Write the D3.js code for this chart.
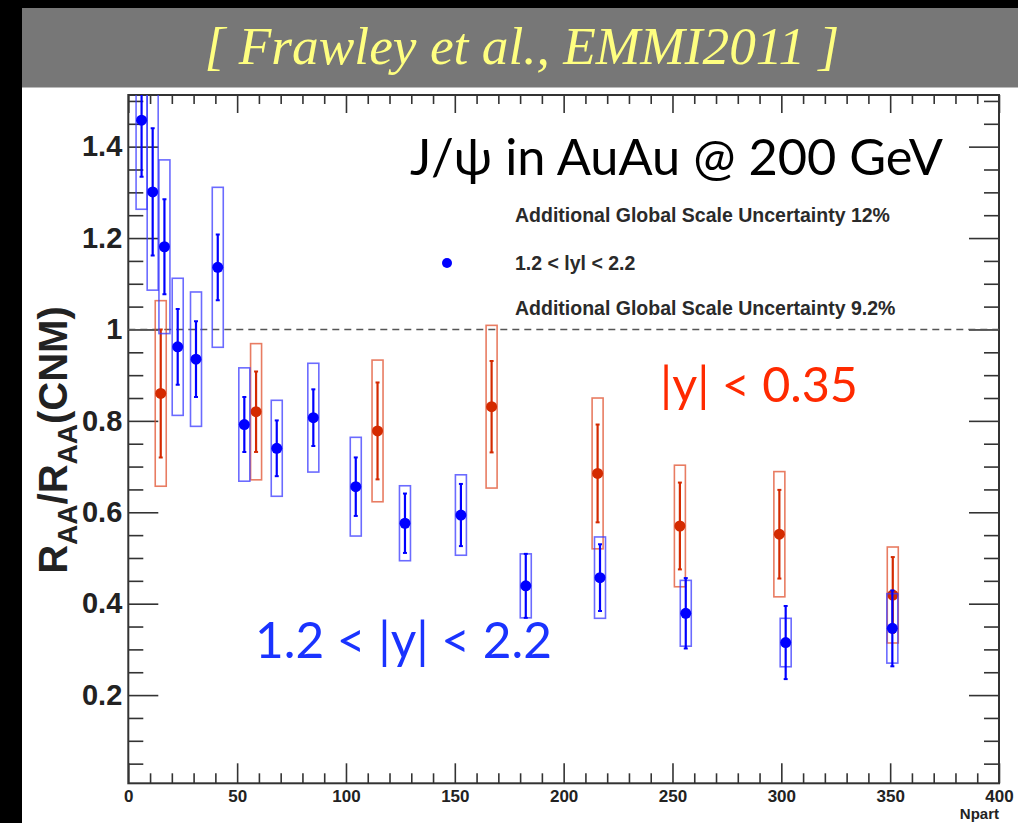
<!DOCTYPE html>
<html><head><meta charset="utf-8">
<script src="https://cdn.jsdelivr.net/npm/d3@7"></script>
<style>body{margin:0;background:#000;overflow:hidden} svg{display:block}</style>
</head><body>
<svg id="c" width="1018" height="823"></svg>
<script>
// ---- data ----
const blueNpart = [6.1, 11.2, 16.6, 22.7, 31.1, 41.1, 53.3, 68.2, 85.0, 104.5, 127.1, 152.8, 182.6, 216.7, 256.1, 302.0, 351.0];
const blueValue = [1.458, 1.301, 1.181, 0.962, 0.935, 1.136, 0.792, 0.740, 0.807, 0.656, 0.576, 0.594, 0.439, 0.457, 0.379, 0.315, 0.346];
const blueStat  = [0.124, 0.139, 0.104, 0.083, 0.083, 0.072, 0.060, 0.061, 0.062, 0.064, 0.065, 0.068, 0.070, 0.073, 0.077, 0.080, 0.083];
const blueSys   = [0.195, 0.215, 0.190, 0.150, 0.147, 0.175, 0.124, 0.105, 0.119, 0.108, 0.082, 0.088, 0.070, 0.089, 0.072, 0.053, 0.076];
const redNpart = [14.9, 58.7, 114.5, 166.9, 215.6, 253.4, 299.1, 351.2];
const redValue = [0.860, 0.820, 0.778, 0.831, 0.685, 0.570, 0.552, 0.419];
const redStat  = [0.140, 0.088, 0.106, 0.100, 0.107, 0.095, 0.097, 0.083];
const redSys   = [0.203, 0.149, 0.155, 0.178, 0.165, 0.133, 0.137, 0.105];
const xMajorTicks = [0, 50, 100, 150, 200, 250, 300, 350, 400];
const xTickLabels = ["0", "50", "100", "150", "200", "250", "300", "350", "400"];
const yMajorTicks = [0.2, 0.4, 0.6, 0.8, 1.0, 1.2, 1.4];
const yTickLabels = ["0.2", "0.4", "0.6", "0.8", "1", "1.2", "1.4"];
const xDomain = [0, 400];
const yDomain = [0.007, 1.513];
const refLine = 1.0;
const legendLines = ["Additional Global Scale Uncertainty 12%", "1.2 < lyl < 2.2", "Additional Global Scale Uncertainty 9.2%"];

// ---- layout ----
const svg = d3.select("#c");
const L = 128.3, R = 999, T = 95, B = 783.3;
const x = d3.scaleLinear().domain(xDomain).range([L, R]);
const y = d3.scaleLinear().domain(yDomain).range([B, T]);
const xMinor = d3.range(0, 401, 10).filter(v => v % 50 !== 0);
const yMinor = d3.range(1, 31).map(i => +(i * 0.05).toFixed(2)).filter(v => Math.round(v * 100) % 20 !== 0);

function fit(sel, w) {
  const len = sel.node().getComputedTextLength();
  const fs = parseFloat(sel.attr("font-size"));
  const nf = fs * w / len;
  sel.attr("font-size", nf);
  return nf / fs;
}

// backgrounds
svg.append("rect").attr("x", 22).attr("y", 8).attr("width", 996).attr("height", 80).attr("fill", "#777777");
svg.append("rect").attr("x", 22).attr("y", 87.5).attr("width", 996).attr("height", 736).attr("fill", "#ffffff");

// banner
const ban = svg.append("text").attr("x", 522).attr("y", 64).attr("text-anchor", "middle")
  .attr("font-family", "'Liberation Serif', 'DejaVu Serif', serif").attr("font-style", "italic")
  .attr("font-size", 40).attr("fill", "#ffff80").text("[ Frawley et al., EMMI2011 ]");
fit(ban, 635);

// clip
svg.append("clipPath").attr("id", "pc").append("rect").attr("x", L).attr("y", T).attr("width", R - L).attr("height", B - T);

// axes ticks
function styleAxis(g) { g.select(".domain").remove(); g.selectAll("line").attr("stroke", "#333").attr("stroke-width", 1.6); }
svg.append("g").attr("transform", `translate(0,${B})`).call(d3.axisTop(x).tickValues(xMajorTicks).tickSize(20).tickFormat("")).call(styleAxis);
svg.append("g").attr("transform", `translate(0,${B})`).call(d3.axisTop(x).tickValues(xMinor).tickSize(10).tickFormat("")).call(styleAxis);
svg.append("g").attr("transform", `translate(0,${T})`).call(d3.axisBottom(x).tickValues(xMajorTicks).tickSize(18).tickFormat("")).call(styleAxis);
svg.append("g").attr("transform", `translate(0,${T})`).call(d3.axisBottom(x).tickValues(xMinor).tickSize(9).tickFormat("")).call(styleAxis);
svg.append("g").attr("transform", `translate(${L},0)`).call(d3.axisRight(y).tickValues(yMajorTicks).tickSize(30).tickFormat("")).call(styleAxis);
svg.append("g").attr("transform", `translate(${L},0)`).call(d3.axisRight(y).tickValues(yMinor).tickSize(15).tickFormat("")).call(styleAxis);
svg.append("g").attr("transform", `translate(${R},0)`).call(d3.axisLeft(y).tickValues(yMajorTicks).tickSize(30).tickFormat("")).call(styleAxis);
svg.append("g").attr("transform", `translate(${R},0)`).call(d3.axisLeft(y).tickValues(yMinor).tickSize(15).tickFormat("")).call(styleAxis);

// tick labels
const xl = svg.append("g").attr("transform", `translate(0,${B})`)
  .call(d3.axisBottom(x).tickValues(xMajorTicks).tickSize(0).tickPadding(7).tickFormat((d, i) => xTickLabels[i]));
xl.select(".domain").remove();
xl.selectAll("text").attr("font-family", "'Liberation Sans', Arial, sans-serif").attr("font-weight", "bold").attr("font-size", 17).attr("fill", "#222");
const yl = svg.append("g").attr("transform", `translate(${L},0)`)
  .call(d3.axisLeft(y).tickValues(yMajorTicks).tickSize(0).tickPadding(6).tickFormat((d, i) => yTickLabels[i]));
yl.select(".domain").remove();
yl.selectAll("text").attr("font-family", "'Liberation Sans', Arial, sans-serif").attr("font-weight", "bold").attr("font-size", 29).attr("fill", "#222");

// frame
svg.append("rect").attr("x", L).attr("y", T).attr("width", R - L).attr("height", B - T).attr("fill", "none").attr("stroke", "#333").attr("stroke-width", 2);

// axis titles
svg.append("text").attr("x", R).attr("y", 819).attr("text-anchor", "end")
  .attr("font-family", "'Liberation Sans', Arial, sans-serif").attr("font-weight", "bold").attr("font-size", 15).attr("fill", "#222").text("Npart");
const yt = svg.append("text").attr("transform", "translate(67,440) rotate(-90)").attr("text-anchor", "middle")
  .attr("font-family", "'Liberation Sans', Arial, sans-serif").attr("font-weight", "bold").attr("font-size", 40).attr("fill", "#222");
yt.append("tspan").text("R");
yt.append("tspan").attr("font-size", 28).attr("dy", 10).text("AA");
yt.append("tspan").attr("dy", -10).text("/R");
yt.append("tspan").attr("font-size", 28).attr("dy", 10).text("AA");
yt.append("tspan").attr("dy", -10).text("(CNM)");

// reference line
svg.append("line").attr("x1", L).attr("x2", R).attr("y1", y(refLine)).attr("y2", y(refLine))
  .attr("stroke", "#555").attr("stroke-width", 1.5).attr("stroke-dasharray", "7,5");

// legend
const lg = svg.append("g").attr("font-family", "'Liberation Sans', Arial, sans-serif").attr("font-weight", "bold").attr("fill", "#2a2a2a");
const ly = [215, 263, 308];
const lt = legendLines.map((t, i) => lg.append("text").attr("x", 515).attr("y", ly[i]).attr("dy", "0.35em").attr("font-size", 16).text(t));
const k = fit(lt[0], 375);
fit(lt[2], 375 * lt[2].node().getComputedTextLength() / lt[0].node().getComputedTextLength() * k);
lt[1].attr("font-size", 16 * k);
svg.append("circle").attr("cx", 447).attr("cy", 263).attr("r", 5).attr("fill", "#0000ff");

// data
const plot = svg.append("g").attr("clip-path", "url(#pc)");
function series(N, V, S, Y, boxCol, col) {
  const d = N.map((n, i) => ({ n, v: V[i], s: S[i], y: Y[i] }));
  const g = plot.append("g");
  g.selectAll(".box").data(d).join("rect")
    .attr("x", p => x(p.n) - 5.5).attr("width", 11)
    .attr("y", p => y(p.v + p.y)).attr("height", p => y(p.v - p.y) - y(p.v + p.y))
    .attr("fill", "none").attr("stroke", boxCol).attr("stroke-width", 1.6).attr("stroke-opacity", 0.75);
  g.selectAll(".bar").data(d).join("line")
    .attr("x1", p => x(p.n)).attr("x2", p => x(p.n))
    .attr("y1", p => y(p.v + p.s)).attr("y2", p => y(p.v - p.s))
    .attr("stroke", col).attr("stroke-width", 2.2);
  [1, -1].forEach(sg => {
    g.selectAll(".cap" + sg).data(d).join("line")
      .attr("x1", p => x(p.n) - 2).attr("x2", p => x(p.n) + 2)
      .attr("y1", p => y(p.v + sg * p.s)).attr("y2", p => y(p.v + sg * p.s))
      .attr("stroke", col).attr("stroke-width", 2);
  });
  g.selectAll(".pt").data(d).join("circle")
    .attr("cx", p => x(p.n)).attr("cy", p => y(p.v)).attr("r", 5.5).attr("fill", col);
}
series(redNpart, redValue, redStat, redSys, "#e0502e", "#d42a00");
series(blueNpart, blueValue, blueStat, blueSys, "#3a3aff", "#0000ff");

// annotations
const t1 = svg.append("text").attr("x", 410).attr("y", 175).attr("font-family", "Lato, 'Open Sans', sans-serif")
  .attr("font-size", 42).attr("fill", "#000").text("J/ψ in AuAu @ 200 GeV");
fit(t1, 533);
const t2 = svg.append("text").attr("x", 660).attr("y", 402).attr("font-family", "Lato, 'Open Sans', sans-serif")
  .attr("font-size", 46).attr("fill", "#ff2a00").text("|y| < 0.35");
fit(t2, 198);
const t3 = svg.append("text").attr("x", 255).attr("y", 658).attr("font-family", "Lato, 'Open Sans', sans-serif")
  .attr("font-size", 46).attr("fill", "#1a33ff").text("1.2 < |y| < 2.2");
fit(t3, 297);
</script>
</body></html>
